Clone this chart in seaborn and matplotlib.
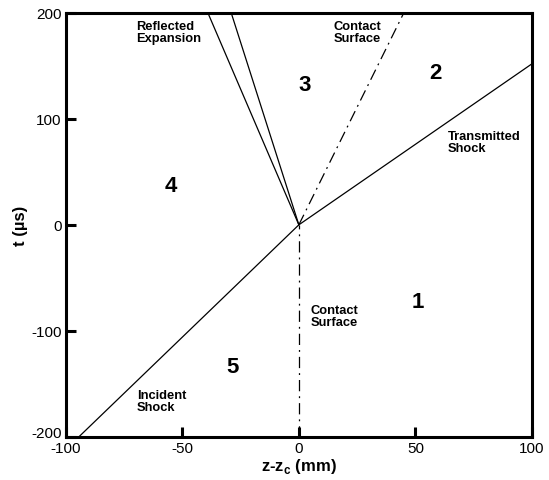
import matplotlib
matplotlib.use("Agg")
import matplotlib.pyplot as plt
import matplotlib.transforms as mtransforms
import seaborn as sns
import pandas as pd

sns.set_theme(style="white")
plt.rcParams["font.family"] = ["Liberation Sans", "DejaVu Sans"]
plt.rcParams["mathtext.fontset"] = "custom"
plt.rcParams["mathtext.rm"] = "Liberation Sans"
plt.rcParams["mathtext.bf"] = "Liberation Sans:bold"
plt.rcParams["text.color"] = "black"
plt.rcParams["axes.labelcolor"] = "black"
plt.rcParams["axes.unicode_minus"] = False

# Wave trajectories in the z-t plane (z in mm, t in microseconds)
wave_names = ["incident", "transmitted", "reflected_head", "reflected_tail",
              "contact_upper", "contact_lower"]
z_start = [-94.3, 0.0, 0.0, 0.0, 0.0, 0.0]
t_start = [-200.0, 0.0, 0.0, 0.0, 0.0, -200.0]
z_end = [0.0, 100.0, -39.0, -29.0, 45.0, 0.0]
t_end = [0.0, 152.0, 200.0, 200.0, 200.0, 0.0]
wave_kind = ["shock", "shock", "expansion", "expansion", "contact", "contact"]

# Region numbers
region_ids = ["1", "2", "3", "4", "5"]
region_z = [51.0, 58.5, 2.5, -55.0, -28.5]
region_t = [-72.0, 144.0, 132.0, 37.0, -134.0]

# Annotations
note_text = ["Reflected\nExpansion", "Contact\nSurface", "Transmitted\nShock",
             "Contact\nSurface", "Incident\nShock"]
note_z = [-70.0, 15.0, 64.0, 5.0, -69.5]
note_t = [182.0, 182.0, 78.0, -86.0, -166.0]

rows = []
for name, z0, t0, z1, t1, kind in zip(wave_names, z_start, t_start, z_end, t_end, wave_kind):
    rows.append({"wave": name, "kind": kind, "z": z0, "t": t0})
    rows.append({"wave": name, "kind": kind, "z": z1, "t": t1})
df = pd.DataFrame(rows)

fig = plt.figure(figsize=(5.49, 4.81), dpi=100)
ax = fig.add_axes([0.1197, 0.09, 0.8493, 0.881])

for name, grp in df.groupby("wave", sort=False):
    ls = (0, (9, 4, 1.5, 4)) if grp["kind"].iloc[0] == "contact" else "-"
    sns.lineplot(data=grp, x="z", y="t", ax=ax, color="black", lw=0.9,
                 linestyle=ls, estimator=None, sort=False, legend=False)

for lab, z, t in zip(region_ids, region_z, region_t):
    ax.text(z, t, lab, fontsize=16, fontweight="bold", ha="center", va="center",
            color="black")

for lab, z, t in zip(note_text, note_z, note_t):
    ax.text(z, t, lab, fontsize=9.3, fontweight="bold", ha="left", va="center",
            linespacing=1.0, color="black")

ax.set_xlim(-100, 100)
ax.set_ylim(-200, 200)
ax.set_xticks([-100, -50, 0, 50, 100])
ax.set_yticks([-200, -100, 0, 100, 200])
ax.tick_params(axis="both", which="major", direction="in", length=7, width=2.2,
               labelsize=11, colors="black", pad=3,
               bottom=True, left=True, top=False, right=False)
for sp in ax.spines.values():
    sp.set_visible(True)
    sp.set_color("black")
    sp.set_linewidth(2.2)

# lift the lowest t label a little so it clears the first z label
low_lab = ax.get_yticklabels()[0]
low_lab.set_transform(low_lab.get_transform() +
                      mtransforms.ScaledTranslation(0, 4 / 72, fig.dpi_scale_trans))

ax.set_xlabel(r"z-z$_\mathbf{c}$ (mm)", fontsize=12, fontweight="bold", labelpad=1)
ax.set_ylabel("t (µs)", fontsize=12, fontweight="bold", labelpad=2)
ax.grid(False)

fig.savefig("out.png", dpi=100)
